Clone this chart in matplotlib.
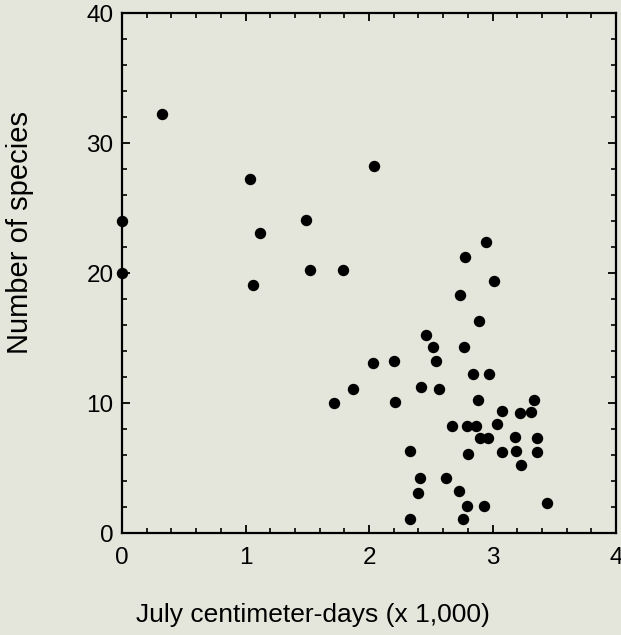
import matplotlib
matplotlib.use("Agg")
import matplotlib.pyplot as plt
from matplotlib.ticker import MultipleLocator

plt.rcParams['font.family'] = ['Liberation Sans', 'DejaVu Sans']

# July centimeter-days (x 1,000)
cm_days = [0.0, 0.0, 0.32, 1.04, 2.04, 1.12, 1.49, 1.06, 1.52, 1.79,
           2.95, 2.78, 3.01, 2.74, 2.89, 2.46, 2.52, 2.77, 2.54, 2.03,
           2.20, 2.84, 2.97, 1.72, 1.87, 2.21, 2.42, 2.57, 2.88, 3.08,
           2.67, 2.79, 2.87, 3.04, 2.90, 2.96, 2.33, 2.80, 3.08, 2.41,
           2.62, 2.40, 2.73, 2.79, 2.93, 2.33, 2.76, 3.34, 3.22, 3.31,
           3.18, 3.36, 3.19, 3.36, 3.23, 3.44]
# Number of species
species = [24.0, 20.0, 32.2, 27.2, 28.2, 23.1, 24.1, 19.1, 20.2, 20.2,
           22.4, 21.2, 19.4, 18.3, 16.3, 15.2, 14.3, 14.3, 13.2, 13.1,
           13.2, 12.2, 12.2, 10.0, 11.1, 10.1, 11.2, 11.1, 10.2, 9.4,
           8.2, 8.2, 8.2, 8.4, 7.3, 7.3, 6.3, 6.05, 6.2, 4.2,
           4.2, 3.05, 3.2, 2.1, 2.1, 1.05, 1.1, 10.2, 9.25, 9.3,
           7.4, 7.3, 6.3, 6.2, 5.2, 2.3]

x_ticks = [0, 1, 2, 3, 4]
y_ticks = [0, 10, 20, 30, 40]
x_label = "July centimeter-days (x 1,000)"
y_label = "Number of species"

bg = '#e5e6db'
W, H = 621, 635
fig = plt.figure(figsize=(W / 100, H / 100), dpi=100, facecolor=bg)
ax = fig.add_axes([122 / W, 1 - 533 / H, (616 - 122) / W, (533 - 13) / H])
ax.set_facecolor(bg)

ax.plot(cm_days, species, 'o', color='black', markersize=7.2, clip_on=False, zorder=3)

ax.set_xlim(0, 4)
ax.set_ylim(0, 40)
ax.set_xticks(x_ticks)
ax.set_yticks(y_ticks)
ax.xaxis.set_minor_locator(MultipleLocator(0.2))
ax.yaxis.set_minor_locator(MultipleLocator(2))
ax.tick_params(which='both', direction='in', top=True, right=True, color='black')
ax.tick_params(which='major', length=6, width=1.3, labelsize=17.5)
ax.tick_params(which='minor', length=3.5, width=1.2)
ax.tick_params(axis='x', which='major', pad=10)
ax.tick_params(axis='y', which='major', pad=6)
for s in ax.spines.values():
    s.set_linewidth(1.6)

ax.set_xlabel(x_label, fontsize=19, va='center')
ax.xaxis.set_label_coords((313 - 122) / 494, (533 - 615) / 520)
ax.set_ylabel(y_label, fontsize=21, va='center')
ax.yaxis.set_label_coords((20 - 122) / 494, (533 - 233) / 520)

fig.savefig('out.png', dpi=100, facecolor=bg)
